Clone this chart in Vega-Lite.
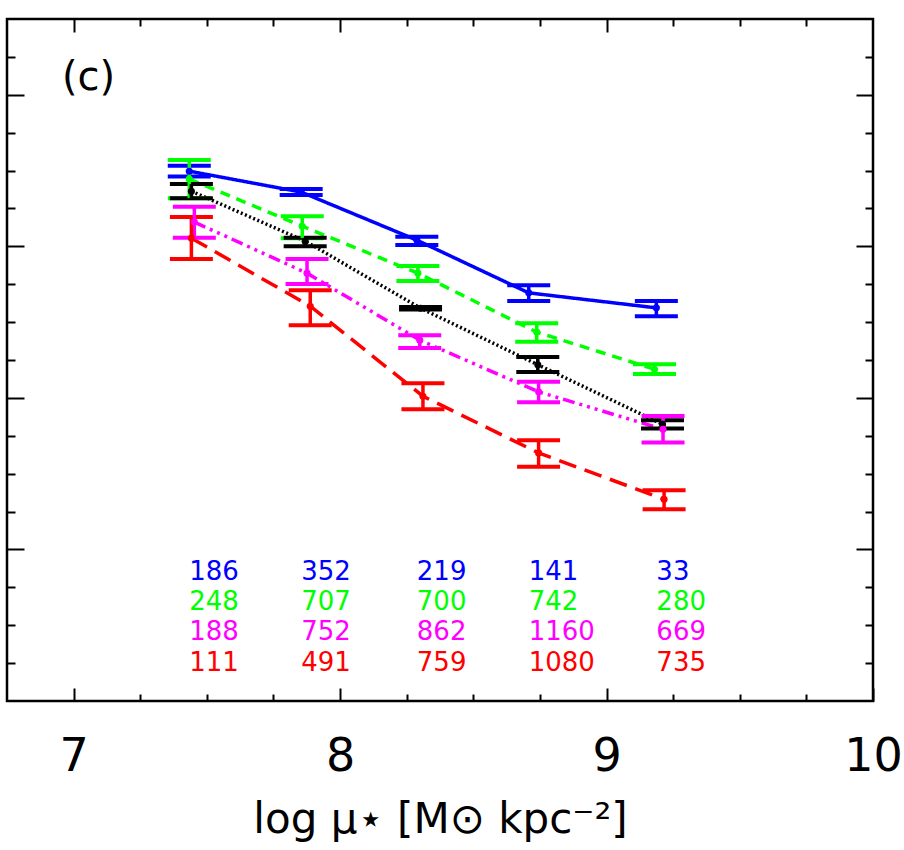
{
  "$schema": "https://vega.github.io/schema/vega-lite/v6.json",
  "width": 866,
  "height": 682,
  "autosize": {"type": "none"},
  "padding": {"left": 7, "top": 19, "right": 31, "bottom": 149},
  "background": "white",
  "config": {
    "view": {"stroke": "black", "strokeWidth": 2.5},
    "font": "DejaVu Sans",
    "axis": {"grid": false, "domain": false, "tickColor": "black", "tickWidth": 2, "labelColor": "black", "titleColor": "black"}
  },
  "datasets": {
    "pts": [
      {"series": "blue", "x": 7.434, "y": 3.496, "lo": 3.460, "hi": 3.532},
      {"series": "blue", "x": 7.854, "y": 3.358, "lo": 3.338, "hi": 3.378},
      {"series": "blue", "x": 8.288, "y": 3.041, "lo": 3.008, "hi": 3.063},
      {"series": "blue", "x": 8.708, "y": 2.693, "lo": 2.640, "hi": 2.744},
      {"series": "blue", "x": 9.187, "y": 2.594, "lo": 2.539, "hi": 2.640},
      {"series": "green", "x": 7.434, "y": 3.444, "lo": 3.318, "hi": 3.569},
      {"series": "green", "x": 7.858, "y": 3.133, "lo": 3.054, "hi": 3.199},
      {"series": "green", "x": 8.292, "y": 2.823, "lo": 2.772, "hi": 2.871},
      {"series": "green", "x": 8.738, "y": 2.434, "lo": 2.370, "hi": 2.493},
      {"series": "green", "x": 9.180, "y": 2.189, "lo": 2.157, "hi": 2.222},
      {"series": "black", "x": 7.442, "y": 3.364, "lo": 3.318, "hi": 3.411},
      {"series": "black", "x": 7.869, "y": 3.034, "lo": 3.001, "hi": 3.057},
      {"series": "black", "x": 8.302, "y": 2.592, "lo": 2.583, "hi": 2.600},
      {"series": "black", "x": 8.742, "y": 2.219, "lo": 2.170, "hi": 2.269},
      {"series": "black", "x": 9.210, "y": 1.826, "lo": 1.798, "hi": 1.853},
      {"series": "magenta", "x": 7.453, "y": 3.160, "lo": 3.056, "hi": 3.261},
      {"series": "magenta", "x": 7.876, "y": 2.823, "lo": 2.751, "hi": 2.916},
      {"series": "magenta", "x": 8.299, "y": 2.381, "lo": 2.330, "hi": 2.414},
      {"series": "magenta", "x": 8.745, "y": 2.040, "lo": 1.972, "hi": 2.106},
      {"series": "magenta", "x": 9.212, "y": 1.793, "lo": 1.706, "hi": 1.881},
      {"series": "red", "x": 7.442, "y": 3.054, "lo": 2.916, "hi": 3.193},
      {"series": "red", "x": 7.888, "y": 2.605, "lo": 2.480, "hi": 2.711},
      {"series": "red", "x": 8.311, "y": 2.011, "lo": 1.925, "hi": 2.097},
      {"series": "red", "x": 8.745, "y": 1.637, "lo": 1.545, "hi": 1.721},
      {"series": "red", "x": 9.216, "y": 1.331, "lo": 1.265, "hi": 1.391}
    ],
    "counts": [
      {"series": "blue", "x": 7.434, "ty": 0.8, "n": "186"},
      {"series": "blue", "x": 7.854, "ty": 0.8, "n": "352"},
      {"series": "blue", "x": 8.288, "ty": 0.8, "n": "219"},
      {"series": "blue", "x": 8.708, "ty": 0.8, "n": "141"},
      {"series": "blue", "x": 9.187, "ty": 0.8, "n": "33"},
      {"series": "green", "x": 7.434, "ty": 0.6, "n": "248"},
      {"series": "green", "x": 7.854, "ty": 0.6, "n": "707"},
      {"series": "green", "x": 8.288, "ty": 0.6, "n": "700"},
      {"series": "green", "x": 8.708, "ty": 0.6, "n": "742"},
      {"series": "green", "x": 9.187, "ty": 0.6, "n": "280"},
      {"series": "magenta", "x": 7.434, "ty": 0.4, "n": "188"},
      {"series": "magenta", "x": 7.854, "ty": 0.4, "n": "752"},
      {"series": "magenta", "x": 8.288, "ty": 0.4, "n": "862"},
      {"series": "magenta", "x": 8.708, "ty": 0.4, "n": "1160"},
      {"series": "magenta", "x": 9.187, "ty": 0.4, "n": "669"},
      {"series": "red", "x": 7.434, "ty": 0.2, "n": "111"},
      {"series": "red", "x": 7.854, "ty": 0.2, "n": "491"},
      {"series": "red", "x": 8.288, "ty": 0.2, "n": "759"},
      {"series": "red", "x": 8.708, "ty": 0.2, "n": "1080"},
      {"series": "red", "x": 9.187, "ty": 0.2, "n": "735"}
    ],
    "panel": [{"label": "(c)", "x": 6.956, "y": 4.03}]
  },
  "layer": [
    {
      "data": {"name": "pts"},
      "mark": {"type": "line", "strokeWidth": 3.5},
      "encoding": {
        "x": {
          "field": "x", "type": "quantitative",
          "scale": {"domain": [6.75, 10], "nice": false, "zero": false},
          "axis": {
            "orient": "bottom",
            "title": "log μ⋆ [M⊙ kpc⁻²]",
            "titleFontSize": 42, "titleFontWeight": "normal", "titleFont": "DejaVu Sans", "titlePadding": 14,
            "values": [7, 7.25, 7.5, 7.75, 8, 8.25, 8.5, 8.75, 9, 9.25, 9.5, 9.75, 10],
            "tickSize": {"condition": {"test": "datum.value % 1 === 0", "value": -13}, "value": -7},
            "labelExpr": "datum.value % 1 === 0 ? format(datum.value, 'd') : ''",
            "labelFontSize": 46, "labelFont": "DejaVu Sans", "labelPadding": 46,
            "labelOverlap": false, "labelFlush": false
          }
        },
        "y": {
          "field": "y", "type": "quantitative",
          "scale": {"domain": [0, 4.5], "nice": false, "zero": false},
          "axis": {
            "orient": "left", "title": null, "labels": false,
            "values": [0.25, 0.5, 0.75, 1, 1.25, 1.5, 1.75, 2, 2.25, 2.5, 2.75, 3, 3.25, 3.5, 3.75, 4, 4.25],
            "tickSize": {"condition": {"test": "datum.value % 1 === 0", "value": -17}, "value": -8}
          }
        },
        "color": {
          "field": "series", "type": "nominal",
          "scale": {"domain": ["blue", "green", "black", "magenta", "red"], "range": ["#0000ff", "#00ff00", "#000000", "#ff00ff", "#ff0000"]},
          "legend": null
        },
        "strokeDash": {
          "field": "series", "type": "nominal",
          "scale": {"domain": ["blue", "green", "black", "magenta", "red"], "range": [[1, 0], [10, 7], [2, 2.5], [12, 5, 3, 5, 3, 5, 3, 5], [18, 9]]},
          "legend": null
        }
      }
    },
    {
      "data": {"name": "pts"},
      "mark": {"type": "errorbar", "thickness": 3.5, "opacity": 1, "rule": {"opacity": 1}, "ticks": {"size": 43, "thickness": 4, "opacity": 1}},
      "encoding": {
        "x": {"field": "x", "type": "quantitative", "axis": null},
        "y": {"field": "lo", "type": "quantitative", "axis": null},
        "y2": {"field": "hi"},
        "color": {"field": "series", "type": "nominal", "legend": null}
      }
    },
    {
      "data": {"name": "pts"},
      "mark": {"type": "point", "filled": true, "size": 50, "opacity": 1},
      "encoding": {
        "x": {
          "field": "x", "type": "quantitative",
          "axis": {
            "orient": "top", "title": null, "labels": false,
            "values": [7, 7.25, 7.5, 7.75, 8, 8.25, 8.5, 8.75, 9, 9.25, 9.5, 9.75],
            "tickSize": {"condition": {"test": "datum.value % 1 === 0", "value": -13}, "value": -7}
          }
        },
        "y": {
          "field": "y", "type": "quantitative",
          "axis": {
            "orient": "right", "title": null, "labels": false,
            "values": [0.25, 0.5, 0.75, 1, 1.25, 1.5, 1.75, 2, 2.25, 2.5, 2.75, 3, 3.25, 3.5, 3.75, 4, 4.25],
            "tickSize": {"condition": {"test": "datum.value % 1 === 0", "value": -17}, "value": -8}
          }
        },
        "color": {"field": "series", "type": "nominal", "legend": null}
      }
    },
    {
      "data": {"name": "counts"},
      "mark": {"type": "text", "align": "left", "baseline": "alphabetic", "fontSize": 26, "font": "DejaVu Sans"},
      "encoding": {
        "x": {"field": "x", "type": "quantitative", "axis": null},
        "y": {"field": "ty", "type": "quantitative", "axis": null},
        "text": {"field": "n"},
        "color": {"field": "series", "type": "nominal", "legend": null}
      }
    },
    {
      "data": {"name": "panel"},
      "mark": {"type": "text", "align": "left", "baseline": "alphabetic", "fontSize": 40, "font": "DejaVu Sans", "color": "black"},
      "encoding": {
        "x": {"field": "x", "type": "quantitative", "axis": null},
        "y": {"field": "y", "type": "quantitative", "axis": null},
        "text": {"field": "label"}
      }
    }
  ],
  "resolve": {"axis": {"x": "independent", "y": "independent"}}
}
